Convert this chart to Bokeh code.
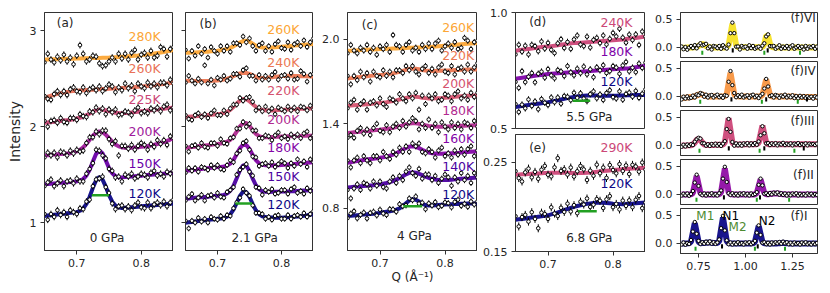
import numpy as np
from bokeh.plotting import figure
from bokeh.layouts import row, column
from bokeh.models import Label, FixedTicker, PrintfTickFormatter
from bokeh.embed import file_html
from bokeh.resources import INLINE

FONT = "DejaVu Sans"
AXC = "#333333"
TXT = "#262626"
GREEN = "#22a022"
MGREEN = "#4d8b31"

# ---------------- data: panels (a)-(e) ----------------
Q_AE = [0.650, 0.655, 0.660, 0.665, 0.670, 0.675, 0.680, 0.685, 0.690, 0.695, 0.700,
        0.705, 0.710, 0.715, 0.720, 0.725, 0.730, 0.735, 0.740, 0.745, 0.750,
        0.755, 0.760, 0.765, 0.770, 0.775, 0.780, 0.785, 0.790, 0.795, 0.800,
        0.805, 0.810, 0.815, 0.820, 0.825, 0.830, 0.835, 0.840, 0.845, 0.850]

# (a) 0 GPa
A120_FIT = [1.070,1.074,1.078,1.082,1.086,1.090,1.094,1.098,1.102,1.106,1.110,1.124,1.148,1.195,1.270,1.363,1.442,1.476,1.448,1.375,1.288,1.219,1.178,1.160,1.152,1.155,1.158,1.161,1.164,1.167,1.170,1.173,1.176,1.179,1.182,1.185,1.188,1.191,1.194,1.197,1.200]
A120_DATA = [1.09,1.03,1.09,1.06,1.13,1.08,1.11,1.06,1.13,1.11,1.09,1.15,1.14,1.22,1.24,1.38,1.45,1.46,1.48,1.37,1.31,1.20,1.14,1.17,1.18,1.14,1.17,1.13,1.18,1.21,1.16,1.15,1.21,1.15,1.19,1.21,1.18,1.22,1.17,1.21,1.24]
A150_FIT = [1.400,1.403,1.406,1.409,1.412,1.415,1.418,1.421,1.424,1.427,1.430,1.438,1.455,1.490,1.552,1.637,1.717,1.751,1.723,1.649,1.570,1.514,1.485,1.474,1.472,1.475,1.478,1.481,1.484,1.487,1.490,1.493,1.496,1.499,1.502,1.505,1.508,1.511,1.514,1.517,1.520]
A150_DATA = [1.38,1.42,1.45,1.38,1.41,1.44,1.38,1.43,1.44,1.41,1.46,1.43,1.43,1.51,1.56,1.62,1.76,1.75,1.70,1.67,1.56,1.54,1.47,1.48,1.43,1.50,1.48,1.51,1.46,1.48,1.51,1.50,1.47,1.52,1.54,1.49,1.51,1.48,1.53,1.51,1.54]
A200_FIT = [1.700,1.703,1.706,1.709,1.712,1.715,1.718,1.721,1.724,1.732,1.743,1.759,1.785,1.820,1.863,1.905,1.937,1.951,1.943,1.917,1.881,1.844,1.815,1.795,1.785,1.780,1.778,1.781,1.784,1.787,1.790,1.794,1.799,1.805,1.812,1.820,1.829,1.840,1.852,1.866,1.882]
A200_DATA = [1.68,1.73,1.70,1.73,1.68,1.74,1.73,1.70,1.75,1.72,1.76,1.74,1.75,1.83,1.89,1.89,1.95,1.92,1.96,1.96,1.87,1.82,1.85,1.70,1.80,1.80,1.77,1.81,1.76,1.80,1.83,1.81,1.76,1.82,1.79,1.86,1.82,1.86,1.81,1.90,1.88]
A225_FIT = [2.040,2.044,2.048,2.052,2.056,2.060,2.064,2.068,2.072,2.078,2.085,2.093,2.105,2.120,2.138,2.156,2.170,2.178,2.178,2.172,2.162,2.152,2.145,2.141,2.141,2.142,2.144,2.148,2.152,2.156,2.160,2.164,2.168,2.172,2.176,2.180,2.184,2.188,2.192,2.196,2.200]
A225_DATA = [2.06,2.00,2.06,2.07,2.04,2.09,2.05,2.04,2.09,2.09,2.07,2.13,2.11,2.10,2.16,2.15,2.20,2.16,2.19,2.13,2.18,2.15,2.18,2.12,2.13,2.16,2.15,2.12,2.17,2.20,2.14,2.16,2.14,2.19,2.17,2.20,2.16,2.21,2.23,2.17,2.20]
A260_FIT = [2.300,2.312,2.323,2.333,2.342,2.350,2.357,2.363,2.368,2.372,2.375,2.378,2.380,2.382,2.384,2.386,2.388,2.390,2.392,2.394,2.396,2.398,2.400,2.402,2.404,2.406,2.408,2.410,2.413,2.416,2.419,2.422,2.425,2.429,2.433,2.437,2.441,2.445,2.450,2.455,2.460]
A260_DATA = [2.32,2.29,2.28,2.34,2.37,2.33,2.37,2.33,2.39,2.41,2.37,2.36,2.41,2.35,2.39,2.41,2.38,2.42,2.37,2.40,2.44,2.42,2.36,2.41,2.38,2.45,2.40,2.43,2.37,2.45,2.42,2.40,2.46,2.42,2.45,2.41,2.46,2.46,2.43,2.49,2.45]
A280_FIT = [2.700,2.701,2.702,2.703,2.704,2.705,2.706,2.707,2.708,2.709,2.710,2.711,2.712,2.713,2.714,2.715,2.716,2.717,2.718,2.719,2.720,2.722,2.724,2.726,2.728,2.730,2.733,2.736,2.739,2.742,2.746,2.750,2.754,2.758,2.763,2.768,2.773,2.779,2.785,2.792,2.800]
A280_DATA = [2.67,2.76,2.70,2.67,2.73,2.69,2.75,2.68,2.72,2.65,2.74,2.85,2.76,2.68,2.70,2.74,2.73,2.66,2.63,2.64,2.68,2.72,2.68,2.76,2.71,2.76,2.70,2.77,2.80,2.70,2.75,2.77,2.72,2.79,2.72,2.74,2.83,2.81,2.73,2.81,2.83]

# (b) 2.1 GPa
B120_FIT = [1.000,1.004,1.008,1.012,1.016,1.020,1.024,1.028,1.032,1.036,1.040,1.043,1.050,1.062,1.088,1.135,1.205,1.279,1.324,1.319,1.268,1.194,1.128,1.087,1.067,1.058,1.054,1.053,1.052,1.052,1.052,1.054,1.056,1.058,1.061,1.064,1.068,1.072,1.077,1.083,1.090]
B120_DATA = [1.02,0.94,1.02,1.00,1.05,1.01,1.04,1.00,1.06,1.04,1.03,1.07,1.04,1.08,1.07,1.15,1.21,1.26,1.35,1.31,1.28,1.18,1.10,1.10,1.09,1.04,1.06,1.03,1.07,1.08,1.04,1.04,1.08,1.04,1.07,1.08,1.06,1.10,1.06,1.09,1.12]
B150_FIT = [1.250,1.253,1.256,1.259,1.262,1.265,1.268,1.271,1.274,1.277,1.280,1.283,1.290,1.304,1.333,1.385,1.463,1.547,1.598,1.594,1.539,1.460,1.390,1.347,1.328,1.321,1.320,1.321,1.322,1.323,1.324,1.325,1.326,1.327,1.328,1.330,1.332,1.334,1.336,1.338,1.340]
B150_DATA = [1.23,1.27,1.30,1.23,1.26,1.29,1.23,1.28,1.29,1.26,1.31,1.27,1.26,1.32,1.34,1.37,1.50,1.55,1.58,1.61,1.53,1.49,1.37,1.36,1.29,1.34,1.32,1.35,1.30,1.31,1.34,1.34,1.30,1.35,1.37,1.31,1.33,1.30,1.36,1.33,1.36]
B180_FIT = [1.540,1.544,1.548,1.552,1.556,1.560,1.564,1.568,1.572,1.576,1.580,1.581,1.585,1.594,1.615,1.654,1.713,1.776,1.813,1.810,1.767,1.706,1.652,1.618,1.603,1.598,1.596,1.597,1.598,1.599,1.600,1.603,1.606,1.609,1.612,1.615,1.618,1.621,1.624,1.627,1.630]
B180_DATA = [1.52,1.57,1.54,1.57,1.53,1.58,1.57,1.55,1.60,1.57,1.60,1.56,1.55,1.60,1.65,1.63,1.72,1.75,1.83,1.85,1.76,1.69,1.68,1.59,1.61,1.62,1.59,1.63,1.58,1.61,1.64,1.62,1.57,1.62,1.59,1.66,1.61,1.64,1.58,1.66,1.63]
B200_FIT = [1.780,1.784,1.788,1.792,1.796,1.800,1.804,1.808,1.812,1.816,1.820,1.825,1.833,1.844,1.864,1.899,1.949,2.003,2.036,2.038,2.009,1.964,1.925,1.902,1.892,1.890,1.890,1.892,1.894,1.896,1.898,1.899,1.900,1.901,1.902,1.903,1.904,1.905,1.906,1.907,1.908]
B200_DATA = [1.80,1.74,1.80,1.81,1.78,1.83,1.79,1.78,1.83,1.83,1.80,1.87,1.83,1.82,1.88,1.89,1.98,1.98,2.05,2.00,2.03,1.96,1.96,1.88,1.88,1.91,1.90,1.86,1.91,1.94,1.88,1.90,1.87,1.92,1.89,1.92,1.88,1.93,1.95,1.88,1.91]
B220_FIT = [2.100,2.103,2.106,2.109,2.112,2.115,2.118,2.121,2.124,2.127,2.130,2.135,2.142,2.155,2.176,2.206,2.241,2.272,2.289,2.285,2.266,2.235,2.207,2.186,2.175,2.170,2.169,2.169,2.171,2.173,2.175,2.177,2.179,2.181,2.183,2.185,2.186,2.187,2.188,2.189,2.190]
B220_DATA = [2.12,2.08,2.07,2.12,2.14,2.10,2.13,2.09,2.14,2.17,2.12,2.12,2.17,2.13,2.19,2.23,2.23,2.30,2.27,2.30,2.31,2.26,2.17,2.20,2.16,2.21,2.16,2.19,2.13,2.20,2.18,2.16,2.21,2.17,2.20,2.16,2.21,2.20,2.17,2.22,2.18]
B240_FIT = [2.480,2.479,2.478,2.477,2.476,2.476,2.476,2.477,2.478,2.480,2.482,2.486,2.492,2.500,2.512,2.527,2.542,2.555,2.562,2.560,2.550,2.535,2.520,2.510,2.507,2.508,2.512,2.516,2.520,2.524,2.527,2.529,2.530,2.530,2.529,2.528,2.527,2.526,2.525,2.524,2.523]
B240_DATA = [2.46,2.53,2.48,2.45,2.50,2.46,2.64,2.45,2.49,2.43,2.51,2.49,2.53,2.48,2.50,2.55,2.55,2.52,2.59,2.61,2.53,2.53,2.48,2.54,2.49,2.53,2.49,2.54,2.57,2.49,2.53,2.54,2.50,2.56,2.49,2.50,2.58,2.55,2.47,2.54,2.55]
B260_FIT = [2.770,2.771,2.772,2.774,2.776,2.778,2.780,2.782,2.785,2.788,2.792,2.797,2.803,2.811,2.822,2.837,2.857,2.877,2.892,2.896,2.886,2.865,2.845,2.832,2.826,2.824,2.824,2.826,2.828,2.830,2.833,2.836,2.839,2.842,2.845,2.848,2.851,2.854,2.857,2.860,2.863]
B260_DATA = [2.80,2.71,2.79,2.74,2.84,2.76,2.81,2.72,2.83,2.79,2.76,2.84,2.79,2.84,2.78,2.87,2.87,2.85,2.94,2.88,2.92,2.84,2.79,2.85,2.87,2.79,2.84,2.78,2.86,2.89,2.82,2.81,2.88,2.80,2.86,2.88,2.84,2.90,2.83,2.88,2.92]

# (c) 4 GPa
C120_FIT = [0.745,0.747,0.749,0.751,0.753,0.755,0.757,0.759,0.761,0.764,0.767,0.771,0.775,0.779,0.784,0.790,0.799,0.814,0.836,0.855,0.865,0.861,0.848,0.832,0.823,0.820,0.819,0.821,0.823,0.825,0.827,0.828,0.829,0.830,0.831,0.832,0.832,0.833,0.833,0.834,0.834]
C120_DATA = [0.730,0.762,0.779,0.728,0.753,0.770,0.727,0.767,0.776,0.749,0.790,0.763,0.752,0.794,0.792,0.775,0.829,0.814,0.821,0.870,0.857,0.884,0.833,0.840,0.793,0.835,0.819,0.844,0.808,0.817,0.842,0.836,0.806,0.845,0.861,0.817,0.832,0.810,0.848,0.826,0.849]
C140_FIT = [0.948,0.950,0.952,0.954,0.956,0.958,0.960,0.962,0.964,0.967,0.970,0.974,0.979,0.985,0.993,1.003,1.015,1.028,1.041,1.051,1.055,1.052,1.045,1.035,1.025,1.016,1.009,1.004,1.001,1.000,1.000,1.001,1.003,1.005,1.007,1.009,1.011,1.013,1.015,1.017,1.019]
C140_DATA = [0.93,0.87,0.94,0.97,0.93,0.98,0.97,0.94,0.99,0.96,0.99,0.95,0.94,0.99,1.02,0.98,1.03,1.00,1.06,1.09,1.05,1.03,1.08,1.01,1.04,1.04,1.00,1.03,0.98,1.01,1.04,1.02,0.96,1.02,0.99,1.05,1.00,1.03,0.98,1.05,1.02]
C160_FIT = [1.123,1.127,1.131,1.135,1.139,1.143,1.146,1.149,1.152,1.155,1.158,1.162,1.167,1.173,1.181,1.191,1.203,1.216,1.228,1.237,1.240,1.236,1.227,1.215,1.204,1.196,1.191,1.188,1.187,1.187,1.188,1.189,1.190,1.191,1.193,1.195,1.197,1.199,1.201,1.203,1.205]
C160_DATA = [1.14,1.09,1.14,1.16,1.12,1.17,1.14,1.12,1.17,1.17,1.14,1.20,1.17,1.15,1.20,1.18,1.23,1.20,1.24,1.20,1.26,1.24,1.26,1.20,1.19,1.22,1.20,1.16,1.21,1.23,1.17,1.19,1.16,1.21,1.18,1.22,1.18,1.22,1.24,1.17,1.21]
C180_FIT = [1.335,1.337,1.339,1.341,1.343,1.345,1.348,1.351,1.354,1.356,1.358,1.361,1.364,1.367,1.371,1.376,1.382,1.389,1.396,1.401,1.404,1.403,1.399,1.394,1.389,1.385,1.382,1.380,1.379,1.379,1.380,1.381,1.382,1.383,1.384,1.385,1.386,1.387,1.388,1.389,1.390]
C180_DATA = [1.30,1.32,1.30,1.35,1.37,1.33,1.36,1.32,1.37,1.40,1.35,1.34,1.39,1.34,1.38,1.40,1.37,1.42,1.38,1.41,1.44,1.42,1.36,1.40,1.37,1.43,1.37,1.40,1.34,1.41,1.38,1.36,1.41,1.37,1.40,1.36,1.41,1.40,1.37,1.42,1.38]
C200_FIT = [1.527,1.529,1.531,1.533,1.535,1.537,1.539,1.541,1.543,1.545,1.547,1.550,1.553,1.557,1.561,1.566,1.572,1.578,1.584,1.589,1.592,1.592,1.589,1.585,1.582,1.580,1.580,1.581,1.582,1.583,1.585,1.587,1.589,1.591,1.593,1.595,1.597,1.599,1.600,1.601,1.602]
C200_DATA = [1.51,1.55,1.57,1.50,1.54,1.56,1.50,1.55,1.56,1.53,1.58,1.54,1.52,1.58,1.57,1.55,1.61,1.58,1.56,1.61,1.58,1.62,1.50,1.60,1.54,1.60,1.58,1.61,1.56,1.57,1.61,1.60,1.56,1.61,1.63,1.58,1.60,1.57,1.62,1.59,1.62]
C220_FIT = [1.722,1.724,1.727,1.730,1.733,1.736,1.738,1.740,1.742,1.744,1.746,1.748,1.751,1.754,1.758,1.763,1.769,1.776,1.783,1.789,1.792,1.791,1.787,1.782,1.778,1.776,1.775,1.775,1.776,1.777,1.778,1.779,1.780,1.781,1.782,1.783,1.784,1.785,1.785,1.786,1.786]
C220_DATA = [1.74,1.68,1.74,1.71,1.77,1.73,1.76,1.70,1.77,1.74,1.73,1.78,1.74,1.77,1.73,1.78,1.78,1.76,1.81,1.78,1.81,1.77,1.75,1.79,1.81,1.76,1.79,1.75,1.80,1.82,1.77,1.76,1.81,1.75,1.79,1.80,1.77,1.82,1.77,1.80,1.83]
C260_FIT = [1.918,1.919,1.921,1.922,1.924,1.925,1.926,1.927,1.928,1.929,1.930,1.931,1.932,1.933,1.934,1.935,1.936,1.937,1.938,1.939,1.940,1.941,1.942,1.943,1.944,1.945,1.946,1.948,1.950,1.952,1.954,1.956,1.958,1.960,1.962,1.964,1.966,1.968,1.970,1.972,1.974]
C260_DATA = [1.90,1.96,1.92,1.90,1.94,1.92,1.96,1.91,1.94,1.89,1.95,1.93,1.96,1.91,2.03,1.96,1.95,1.91,1.96,1.98,1.92,1.94,1.91,1.96,1.93,1.97,1.93,1.97,1.99,1.92,1.95,1.97,1.94,1.98,1.93,1.94,2.01,1.99,1.93,1.98,1.99]

# (d) 5.5 GPa
D120_FIT = [0.593,0.595,0.597,0.599,0.601,0.603,0.605,0.607,0.609,0.611,0.613,0.616,0.619,0.622,0.625,0.628,0.631,0.634,0.636,0.638,0.640,0.641,0.642,0.642,0.642,0.642,0.641,0.641,0.641,0.641,0.641,0.641,0.642,0.642,0.643,0.643,0.643,0.644,0.644,0.644,0.645]
D120_DATA = [0.605,0.571,0.603,0.587,0.625,0.597,0.617,0.583,0.627,0.611,0.601,0.634,0.613,0.634,0.607,0.640,0.637,0.622,0.654,0.632,0.652,0.629,0.618,0.648,0.660,0.630,0.647,0.623,0.653,0.665,0.635,0.629,0.660,0.624,0.649,0.655,0.637,0.662,0.632,0.650,0.669]
D180_FIT = [0.715,0.717,0.719,0.721,0.723,0.725,0.727,0.729,0.731,0.733,0.735,0.736,0.737,0.738,0.739,0.740,0.741,0.742,0.743,0.744,0.745,0.746,0.747,0.748,0.749,0.750,0.751,0.752,0.753,0.754,0.755,0.756,0.757,0.758,0.759,0.760,0.762,0.764,0.766,0.768,0.770]
D180_DATA = [0.701,0.675,0.747,0.700,0.723,0.739,0.699,0.736,0.745,0.719,0.756,0.729,0.716,0.752,0.746,0.726,0.769,0.742,0.729,0.758,0.738,0.767,0.733,0.755,0.721,0.764,0.751,0.773,0.739,0.747,0.769,0.763,0.736,0.772,0.787,0.746,0.762,0.743,0.780,0.761,0.784]
D240_FIT = [0.835,0.837,0.839,0.841,0.843,0.845,0.847,0.849,0.851,0.852,0.853,0.855,0.857,0.859,0.861,0.863,0.865,0.867,0.868,0.869,0.870,0.871,0.872,0.873,0.874,0.875,0.876,0.877,0.878,0.879,0.880,0.881,0.882,0.884,0.886,0.888,0.889,0.890,0.892,0.894,0.896]
D240_DATA = [0.819,0.861,0.831,0.857,0.819,0.861,0.855,0.833,0.875,0.844,0.869,0.839,0.825,0.867,0.885,0.847,0.873,0.843,0.884,0.901,0.862,0.855,0.896,0.849,0.882,0.891,0.868,0.901,0.862,0.887,0.912,0.897,0.930,0.892,0.870,0.905,0.881,0.906,0.860,0.918,0.896]

# (e) 6.8 GPa
E120_FIT = [0.1855,0.1860,0.1865,0.1870,0.1875,0.1880,0.1885,0.1890,0.1895,0.1900,0.1905,0.1915,0.1925,0.1937,0.1950,0.1963,0.1976,0.1988,0.1999,0.2009,0.2018,0.2026,0.2033,0.2039,0.2044,0.2047,0.2048,0.2047,0.2044,0.2040,0.2036,0.2033,0.2031,0.2030,0.2031,0.2033,0.2036,0.2039,0.2042,0.2045,0.2048]
E120_DATA = [0.1895,0.1780,0.1885,0.1910,0.1835,0.1940,0.1865,0.1760,0.1935,0.1920,0.1865,0.1995,0.1925,0.1897,0.1990,0.1943,0.2036,0.1948,0.2019,0.1929,0.2058,0.2026,0.2093,0.1999,0.2024,0.2087,0.2068,0.1987,0.2084,0.2120,0.1996,0.2033,0.1971,0.2070,0.2011,0.2073,0.1996,0.2079,0.2122,0.1985,0.2048]
E290_FIT = [0.2360,0.2362,0.2364,0.2366,0.2368,0.2370,0.2372,0.2374,0.2376,0.2378,0.2380,0.2381,0.2382,0.2382,0.2382,0.2382,0.2381,0.2380,0.2379,0.2378,0.2378,0.2379,0.2381,0.2384,0.2388,0.2392,0.2396,0.2400,0.2404,0.2408,0.2412,0.2415,0.2418,0.2421,0.2424,0.2427,0.2430,0.2432,0.2434,0.2436,0.2438]
E290_DATA = [0.2400,0.2322,0.2284,0.2386,0.2428,0.2330,0.2392,0.2314,0.2416,0.2458,0.2360,0.2341,0.2442,0.2545,0.2402,0.2422,0.2361,0.2440,0.2339,0.2398,0.2458,0.2419,0.2301,0.2404,0.2348,0.2472,0.2376,0.2440,0.2324,0.2468,0.2412,0.2375,0.2478,0.2401,0.2464,0.2367,0.2470,0.2452,0.2394,0.2496,0.2418]

# FWHM bars [Q_left, Q_right, level]
FWHM_A = [0.7234, 0.7500, 1.285]
FWHM_B = [0.728, 0.754, 1.20]
FWHM_C = [0.736, 0.765, 0.815]
FWHM_D = [0.738, 0.765, 0.620]
FWHM_E = [0.746, 0.775, 0.195]

ERR_A, ERR_B, ERR_C, ERR_D, ERR_E, ERR_F = 0.035, 0.03, 0.022, 0.014, 0.0045, 0.018

# ---------------- data: panel (f) ----------------
Q_F = [0.66,0.67,0.68,0.69,0.70,0.71,0.72,0.73,0.74,0.75,0.76,0.77,0.78,0.79,0.80,0.81,0.82,0.83,0.84,0.85,
       0.86,0.87,0.88,0.89,0.90,0.91,0.92,0.93,0.94,0.95,0.96,0.97,0.98,0.99,1.00,1.01,1.02,1.03,1.04,1.05,
       1.06,1.07,1.08,1.09,1.10,1.11,1.12,1.13,1.14,1.15,1.16,1.17,1.18,1.19,1.20,1.21,1.22,1.23,1.24,1.25,
       1.26,1.27,1.28,1.29,1.30,1.31,1.32,1.33,1.34,1.35,1.36,1.37,1.38]

F6_FIT = [-0.010,-0.008,-0.006,-0.004,-0.002,0.000,0.000,
          0.002,0.008,0.025,0.048,0.060,0.048,0.025,0.008,0.002,
          0.000,0.000,0.000,0.000,0.000,0.000,0.000,0.000,
          0.003,0.038,0.228,0.420,0.228,0.038,0.003,
          0.003,0.003,0.003,0.003,0.003,0.003,0.003,0.003,0.003,0.003,0.003,0.003,
          0.005,0.060,0.206,0.206,0.060,0.005,
          0.000,0.000,0.000,0.000,0.000,0.000,0.000,0.000,0.000,0.000,0.000,0.000,
          0.000,0.000,0.000,0.000,0.000,0.000,0.000,0.000,0.000,0.000,0.000,0.000]
F6_DATA = [0.015,-0.033,0.006,-0.042,-0.002,0.025,-0.013,0.040,-0.017,0.038,
           0.073,0.035,0.048,0.063,-0.017,0.015,-0.038,0.025,0.013,-0.013,
           0.025,-0.025,0.038,0.000,-0.022,0.050,0.253,0.440,0.253,0.013,
           0.016,-0.038,0.025,0.000,0.013,-0.025,0.038,-0.013,0.025,-0.025,
           0.000,0.013,-0.025,0.030,0.073,0.194,0.231,0.023,0.018,0.025,
           -0.025,0.000,0.038,-0.025,0.013,-0.013,0.025,-0.025,0.013,0.038,
           -0.025,0.000,0.025,-0.013,0.013,-0.038,0.025,-0.025,0.013,0.000,
           0.025,-0.025,0.013]
F4_FIT = [-0.030,-0.027,-0.023,-0.019,-0.015,-0.011,-0.007,
          0.001,0.016,0.032,0.040,0.032,0.016,0.005,
          0.000,0.000,0.000,0.000,0.000,0.000,0.000,0.000,0.000,
          0.002,0.036,0.227,0.420,0.227,0.036,0.002,
          0.000,0.000,0.000,0.000,0.000,0.000,0.000,0.000,0.000,0.000,0.000,0.000,0.000,
          0.026,0.162,0.300,0.162,0.026,
          0.000,0.000,0.000,0.000,0.000,0.000,0.000,0.000,0.000,0.000,0.000,0.000,0.000,
          -0.010,-0.010,-0.010,-0.010,-0.010,-0.010,-0.010,-0.010,-0.010,-0.010,-0.010,-0.010]
F4_DATA = [-0.055,-0.005,-0.040,0.000,-0.035,-0.025,0.013,-0.020,0.035,0.020,
           0.060,0.045,-0.005,0.030,-0.020,0.015,0.025,-0.020,0.010,0.030,
           -0.015,0.010,-0.025,0.020,0.010,0.260,0.450,0.200,0.060,-0.015,
           0.020,-0.010,0.030,-0.020,0.005,0.020,-0.025,0.015,0.030,-0.015,
           0.010,-0.030,0.015,0.045,0.140,0.310,0.175,0.005,0.020,-0.020,
           0.025,0.010,-0.025,0.015,-0.005,0.030,-0.020,0.010,-0.015,0.020,
           -0.030,0.005,-0.035,0.010,-0.020,0.005,-0.030,0.000,-0.025,-0.005,
           -0.040,0.000,-0.020]
F3_FIT = [0.000,0.000,0.000,0.000,
          0.001,0.004,0.017,0.050,0.097,0.121,0.097,0.051,0.019,0.007,0.005,0.006,0.007,0.008,0.009,0.010,
          0.011,0.012,0.015,0.053,0.267,0.483,0.267,0.053,0.016,0.014,0.014,0.015,0.016,0.017,0.018,0.019,
          0.020,0.020,0.020,0.020,0.020,
          0.048,0.198,0.350,0.198,0.048,0.021,
          0.020,0.020,0.020,0.020,0.020,0.020,0.020,0.020,0.020,0.020,0.020,0.020,0.020,
          0.020,0.020,0.020,0.020,0.020,0.020,0.020,0.020,0.020,0.020,0.020,0.020,0.020]
F3_DATA = [-0.025,0.010,-0.020,0.015,-0.010,0.020,0.005,0.065,0.110,0.135,
           0.120,0.040,0.035,-0.005,0.020,-0.010,0.025,0.000,0.030,-0.005,
           0.025,-0.010,0.030,0.075,0.290,0.470,0.240,0.060,-0.005,0.035,
           0.000,0.030,-0.005,0.035,0.010,0.040,0.000,0.035,0.005,0.040,
           0.010,0.070,0.180,0.340,0.215,0.035,0.040,0.005,0.035,0.010,
           0.040,0.000,0.030,0.015,0.045,0.005,0.030,0.010,0.035,0.000,
           0.030,0.015,0.040,0.005,0.025,0.010,0.035,0.000,0.030,0.015,
           0.025,0.005,0.030]
F2_FIT = [0.000,0.000,0.000,0.000,0.000,
          0.001,0.028,0.178,0.330,0.178,0.028,0.001,
          0.000,0.000,0.000,0.000,0.000,0.000,0.000,0.000,
          0.002,0.039,0.248,0.460,0.248,0.039,0.002,
          0.000,0.000,0.000,0.000,0.000,0.000,0.000,0.000,0.000,0.000,0.000,0.000,0.000,
          0.023,0.146,0.270,0.146,0.023,0.002,0.003,0.006,0.010,0.014,0.016,0.014,0.010,0.006,0.003,
          0.000,0.000,0.000,0.000,0.000,0.000,0.000,0.000,0.000,
          0.000,0.000,0.000,0.000,0.000,0.000,0.000,0.000,0.000]
F2_DATA = [-0.020,0.010,-0.015,0.015,-0.025,0.005,0.060,0.210,0.350,0.150,
           0.010,-0.015,0.015,-0.020,0.010,-0.010,0.020,-0.015,0.005,-0.020,
           0.020,0.070,0.280,0.490,0.220,0.020,-0.010,0.020,-0.015,0.010,
           -0.020,0.015,-0.005,0.020,-0.015,0.010,-0.020,0.015,-0.010,0.005,
           0.040,0.170,0.280,0.160,0.010,0.020,-0.010,0.025,0.000,0.030,
           0.010,0.035,-0.005,0.020,-0.010,0.015,-0.020,0.010,-0.015,0.015,
           -0.005,0.020,-0.020,0.010,-0.015,0.005,-0.020,0.015,-0.010,0.010,
           -0.020,0.005,-0.010]
F1_FIT = [0.000,0.000,0.000,0.000,
          0.001,0.031,0.194,0.360,0.194,0.031,0.003,0.005,0.008,0.012,0.015,0.015,0.012,0.008,0.005,0.005,
          0.042,0.251,0.462,0.250,0.041,0.003,
          0.000,0.000,0.000,0.000,0.000,0.000,0.000,0.000,0.000,0.000,0.000,0.000,
          0.001,0.026,0.167,0.310,0.167,0.026,0.001,
          0.000,0.000,0.000,0.000,0.000,0.000,0.000,
          0.004,0.008,0.010,0.008,0.004,
          0.000,0.000,0.000,0.000,0.000,0.000,0.000,0.000,
          0.000,0.000,0.000,0.000,0.000,0.000,0.000,0.000]
F1_DATA = [-0.020,0.015,-0.025,0.005,-0.010,0.060,0.210,0.380,0.170,0.045,
           -0.010,0.020,-0.005,0.030,0.000,0.035,-0.005,0.020,-0.010,0.015,
           0.070,0.270,0.490,0.230,0.055,-0.015,0.015,-0.020,0.010,-0.015,
           0.020,-0.010,0.005,-0.020,0.015,-0.005,0.020,-0.015,0.010,0.045,
           0.190,0.320,0.150,0.010,0.020,-0.015,0.010,-0.020,0.015,-0.010,
           0.020,0.000,0.025,-0.005,0.030,0.000,0.020,-0.015,0.010,-0.020,
           0.015,-0.010,0.005,-0.020,0.015,-0.010,0.020,-0.015,0.005,-0.020,
           0.010,-0.015,0.005]

# reflection tick positions (M: green, N: black)
F6_M = [0.770, 1.100, 1.290]
F6_N = [0.932, 1.118]
F4_M = [0.759, 1.087, 1.278]
F4_N = [0.925, 1.110, 1.327]
F3_M = [0.755, 1.075, 1.260]
F3_N = [0.911, 1.100, 1.310]
F2_M = [0.739, 1.060, 1.232]
F2_N = [0.885, 1.077]
F1_M = [0.734, 1.050, 1.210]
F1_N = [0.875, 1.065]

# colours
COL_A = ["#0d0887", "#6a00a8", "#a01a9c", "#cc4778", "#e97158", "#fca636"]
COL_B = ["#0d0887", "#4c02a1", "#8405a7", "#b12a90", "#d5536f", "#ec7853", "#fca636"]
COL_D = ["#0d0887", "#7e03a8", "#cc4778"]
COL_E = ["#0d0887", "#cc4778"]
COL_F = {"VI": "#f7e225", "IV": "#f89540", "III": "#cc4778", "II": "#8f0da4", "I": "#0d0887"}

TOP = 12  # page offset of the plot frames


def style(p, xticks=None, xfmt="%.1f", yticks=None, yfmt="%.1f", show_x=True, ylabels=True):
    p.outline_line_color = AXC
    p.outline_line_width = 1
    p.xgrid.visible = False
    p.ygrid.visible = False
    p.background_fill_color = "white"
    p.border_fill_color = "white"
    for ax in (p.xaxis[0], p.yaxis[0]):
        ax.axis_line_color = AXC
        ax.major_tick_line_color = AXC
        ax.major_tick_in = 0
        ax.major_tick_out = 4
        ax.minor_tick_line_color = None
        ax.major_label_text_font = FONT
        ax.major_label_text_font_size = "11px"
        ax.major_label_text_color = TXT
        ax.major_label_standoff = 4
    if show_x:
        p.xaxis[0].ticker = FixedTicker(ticks=xticks)
        p.xaxis[0].formatter = PrintfTickFormatter(format=xfmt)
    else:
        p.xaxis[0].visible = False
    p.yaxis[0].ticker = FixedTicker(ticks=yticks)
    p.yaxis[0].formatter = PrintfTickFormatter(format=yfmt)
    if not ylabels:
        p.yaxis[0].major_label_overrides = {t: "" for t in yticks}
        p.yaxis[0].major_label_standoff = 0


def draw(p, q, fit, data, color, err, lw=4, msize=3.6):
    q = np.asarray(q, dtype=float)
    d = np.asarray(data, dtype=float)
    p.line(q, fit, line_color=color, line_width=lw, line_alpha=0.95)
    p.segment(x0=q, y0=d - err, x1=q, y1=d + err, line_color="black", line_width=1)
    p.scatter(q, d, size=msize, marker="circle", fill_color="white",
              line_color="black", line_width=1)


def fwhm(p, bar):
    p.line([bar[0], bar[1]], [bar[2], bar[2]], line_color=GREEN, line_width=2.5)


def lab(p, x, y, text, color=TXT, align="left", size="12px"):
    p.add_layout(Label(x=x, y=y, text=text, text_color=color, text_align=align,
                       text_baseline="middle", text_font=FONT, text_font_size=size))


def mk(fw, fh, bl, bt, bb, xr, yr, br=0):
    return figure(frame_width=fw, frame_height=fh, min_border_left=bl, min_border_right=br,
                  min_border_top=bt, min_border_bottom=bb, x_range=xr, y_range=yr,
                  toolbar_location=None, output_backend="svg")


XR = (0.65, 0.85)
TK = 0.83  # right edge of temperature labels

# ---- (a)
pa = mk(129, 238, 44, TOP, 22, XR, (0.71, 3.19))
style(pa, [0.7, 0.8], "%.1f", [1, 2, 3], "%d")
pa.yaxis[0].axis_label = "Intensity"
pa.yaxis[0].axis_label_text_font = FONT
pa.yaxis[0].axis_label_text_font_size = "14px"
pa.yaxis[0].axis_label_text_font_style = "normal"
pa.yaxis[0].axis_label_text_color = TXT
pa.yaxis[0].axis_label_standoff = 4
for fit, dat, c in zip([A120_FIT, A150_FIT, A200_FIT, A225_FIT, A260_FIT, A280_FIT],
                       [A120_DATA, A150_DATA, A200_DATA, A225_DATA, A260_DATA, A280_DATA], COL_A):
    draw(pa, Q_AE, fit, dat, c, ERR_A)
fwhm(pa, FWHM_A)
for t, y, c in zip(["120K", "150K", "200K", "225K", "260K", "280K"],
                   [1.30, 1.62, 1.95, 2.28, 2.61, 2.94], COL_A):
    lab(pa, TK, y, t, c, "right", "12.5px")
lab(pa, 0.669, 3.076, "(a)")
lab(pa, 0.747, 0.84, "0 GPa", TXT, "center")

# ---- (b)
pb = mk(128, 238, 12, TOP, 22, XR, (0.71, 3.19))
style(pb, [0.7, 0.8], "%.1f", [1, 2, 3], "%d", ylabels=False)
for fit, dat, c in zip([B120_FIT, B150_FIT, B180_FIT, B200_FIT, B220_FIT, B240_FIT, B260_FIT],
                       [B120_DATA, B150_DATA, B180_DATA, B200_DATA, B220_DATA, B240_DATA, B260_DATA], COL_B):
    draw(pb, Q_AE, fit, dat, c, ERR_B)
fwhm(pb, FWHM_B)
for t, y, c in zip(["120K", "150K", "180K", "200K", "220K", "240K", "260K"],
                   [1.19, 1.48, 1.785, 2.08, 2.375, 2.67, 3.01], COL_B):
    lab(pb, 0.828, y, t, c, "right", "12.5px")
lab(pb, 0.672, 3.07, "(b)")
lab(pb, 0.758, 0.84, "2.1 GPa", TXT, "center")

# ---- (c)
pc = mk(130, 238, 34, TOP, 22, XR, (0.50, 2.19))
style(pc, [0.7, 0.8], "%.1f", [0.8, 1.4, 2.0], "%.1f")
pc.xaxis[0].axis_label = "Q (Å⁻¹)"
pc.xaxis[0].axis_label_text_font = FONT
pc.xaxis[0].axis_label_text_font_size = "12px"
pc.xaxis[0].axis_label_text_font_style = "normal"
pc.xaxis[0].axis_label_text_color = TXT
pc.xaxis[0].axis_label_standoff = 0
for fit, dat, c in zip([C120_FIT, C140_FIT, C160_FIT, C180_FIT, C200_FIT, C220_FIT, C260_FIT],
                       [C120_DATA, C140_DATA, C160_DATA, C180_DATA, C200_DATA, C220_DATA, C260_DATA], COL_B):
    draw(pc, Q_AE, fit, dat, c, ERR_C)
fwhm(pc, FWHM_C)
for t, y, c in zip(["120K", "140K", "160K", "180K", "200K", "220K", "260K"],
                   [0.899, 1.099, 1.292, 1.492, 1.687, 1.887, 2.083], COL_B):
    lab(pc, 0.845, y, t, c, "right", "12.5px")
lab(pc, 0.672, 2.099, "(c)")
lab(pc, 0.753, 0.60, "4 GPa", TXT, "center")

# ---- (d)
pd_ = mk(130, 116, 38, TOP, 6, XR, (0.5, 1.0))
style(pd_, yticks=[0.5, 1.0], yfmt="%.1f", show_x=False)
for fit, dat, c in zip([D120_FIT, D180_FIT, D240_FIT], [D120_DATA, D180_DATA, D240_DATA], COL_D):
    draw(pd_, Q_AE, fit, dat, c, ERR_D)
fwhm(pd_, FWHM_D)
for t, y, c in zip(["120K", "180K", "240K"], [0.702, 0.832, 0.959], COL_D):
    lab(pd_, TK, y, t, c, "right", "12.5px")
lab(pd_, 0.671, 0.959, "(d)")
lab(pd_, 0.7635, 0.55, "5.5 GPa", TXT, "center")

# ---- (e)
pe = mk(130, 117, 38, 0, 22, XR, (0.15, 0.281))
style(pe, [0.7, 0.8], "%.1f", [0.15, 0.25], "%.2f")
for fit, dat, c in zip([E120_FIT, E290_FIT], [E120_DATA, E290_DATA], COL_E):
    draw(pe, Q_AE, fit, dat, c, ERR_E)
fwhm(pe, FWHM_E)
for t, y, c in zip(["120K", "290K"], [0.2259, 0.2659], COL_E):
    lab(pe, TK, y, t, c, "right", "12.5px")
lab(pe, 0.671, 0.2659, "(e)")
lab(pe, 0.7635, 0.1652, "6.8 GPa", TXT, "center")

# ---- (f)
FXR = (0.654, 1.383)
FYR = (-0.18, 0.62)
fspecs = [
    ("VI", F6_FIT, F6_DATA, F6_M, F6_N, 1.239, 0.53),
    ("IV", F4_FIT, F4_DATA, F4_M, F4_N, 1.239, 0.45),
    ("III", F3_FIT, F3_DATA, F3_M, F3_N, 1.239, 0.44),
    ("II", F2_FIT, F2_DATA, F2_M, F2_N, 1.253, 0.35),
    ("I", F1_FIT, F1_DATA, F1_M, F1_N, 1.239, 0.48),
]
fpanels = []
for k, (name, fit, dat, mt, nt, lx, ly) in enumerate(fspecs):
    first = k == 0
    last = k == len(fspecs) - 1
    pf = mk(137, 45, 35, TOP if first else 2, 22 if last else 2, FXR, FYR, br=5)
    style(pf, [0.75, 1.0, 1.25], "%.2f", [0.0, 0.5], "%.1f", show_x=last)
    draw(pf, Q_F, fit, dat, COL_F[name], ERR_F, lw=6, msize=3.4)
    pf.segment(x0=mt, y0=[-0.13] * len(mt), x1=mt, y1=[-0.06] * len(mt),
               line_color=GREEN, line_width=2)
    pf.segment(x0=nt, y0=[-0.09] * len(nt), x1=nt, y1=[-0.015] * len(nt),
               line_color="black", line_width=2)
    lab(pf, lx, ly, "(f)" + name)
    if name == "I":
        lab(pf, 0.738, 0.49, "M1", MGREEN)
        lab(pf, 0.878, 0.49, "N1", "black")
        lab(pf, 0.910, 0.30, "M2", MGREEN)
        lab(pf, 1.070, 0.39, "N2", "black")
    fpanels.append(pf)

layout = row(pa, pb, pc, column(pd_, pe), column(*fpanels))
open("out.html", "w").write(file_html(layout, INLINE))
